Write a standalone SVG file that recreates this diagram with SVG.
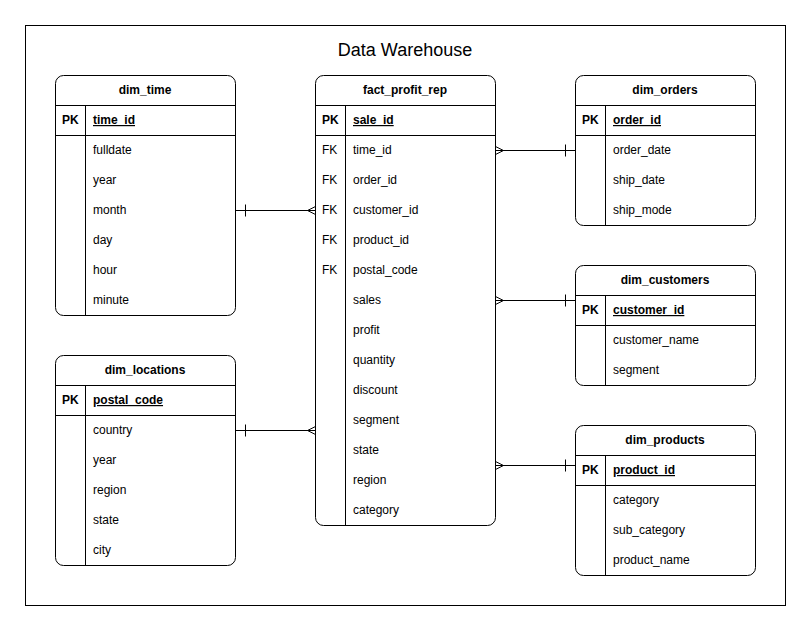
<svg xmlns="http://www.w3.org/2000/svg" width="811" height="632" viewBox="0 0 811 632">
<style>
.t{font-family:"Liberation Sans",Arial,sans-serif;font-size:12px;fill:#000}
.h{font-weight:bold;text-anchor:middle}
.k{font-weight:bold}
.u{font-weight:bold;text-decoration:underline}
.box{fill:#fff;stroke:#000;stroke-width:1}
.ln{stroke:#000;stroke-width:1;fill:none}
</style>
<rect x="0" y="0" width="811" height="632" fill="#fff"/>
<rect x="25.5" y="25.5" width="760" height="580" fill="#fff" stroke="#000"/>
<text x="405" y="55.5" font-family="'Liberation Sans',Arial,sans-serif" font-size="18" text-anchor="middle">Data Warehouse</text>

<g id="dim_time">
<rect class="box" x="55.5" y="75.5" width="180" height="240" rx="8"/>
<line class="ln" x1="55.5" y1="105.5" x2="235.5" y2="105.5"/>
<line class="ln" x1="55.5" y1="135.5" x2="235.5" y2="135.5"/>
<line class="ln" x1="85.5" y1="105.5" x2="85.5" y2="315.5"/>
<text class="t h" x="145" y="94">dim_time</text>
<text class="t k" x="62" y="124">PK</text>
<text class="t u" x="93" y="124">time_id</text>
<text class="t" x="93" y="154">fulldate</text>
<text class="t" x="93" y="184">year</text>
<text class="t" x="93" y="214">month</text>
<text class="t" x="93" y="244">day</text>
<text class="t" x="93" y="274">hour</text>
<text class="t" x="93" y="304">minute</text>
</g>

<g id="dim_locations">
<rect class="box" x="55.5" y="355.5" width="180" height="210" rx="8"/>
<line class="ln" x1="55.5" y1="385.5" x2="235.5" y2="385.5"/>
<line class="ln" x1="55.5" y1="415.5" x2="235.5" y2="415.5"/>
<line class="ln" x1="85.5" y1="385.5" x2="85.5" y2="565.5"/>
<text class="t h" x="145" y="374">dim_locations</text>
<text class="t k" x="62" y="404">PK</text>
<text class="t u" x="93" y="404">postal_code</text>
<text class="t" x="93" y="434">country</text>
<text class="t" x="93" y="464">year</text>
<text class="t" x="93" y="494">region</text>
<text class="t" x="93" y="524">state</text>
<text class="t" x="93" y="554">city</text>
</g>

<g id="fact_profit_rep">
<rect class="box" x="315.5" y="75.5" width="180" height="450" rx="8"/>
<line class="ln" x1="315.5" y1="105.5" x2="495.5" y2="105.5"/>
<line class="ln" x1="315.5" y1="135.5" x2="495.5" y2="135.5"/>
<line class="ln" x1="345.5" y1="105.5" x2="345.5" y2="525.5"/>
<text class="t h" x="405" y="94">fact_profit_rep</text>
<text class="t k" x="322" y="124">PK</text>
<text class="t u" x="353" y="124">sale_id</text>
<text class="t" x="322" y="154">FK</text>
<text class="t" x="353" y="154">time_id</text>
<text class="t" x="322" y="184">FK</text>
<text class="t" x="353" y="184">order_id</text>
<text class="t" x="322" y="214">FK</text>
<text class="t" x="353" y="214">customer_id</text>
<text class="t" x="322" y="244">FK</text>
<text class="t" x="353" y="244">product_id</text>
<text class="t" x="322" y="274">FK</text>
<text class="t" x="353" y="274">postal_code</text>
<text class="t" x="353" y="304">sales</text>
<text class="t" x="353" y="334">profit</text>
<text class="t" x="353" y="364">quantity</text>
<text class="t" x="353" y="394">discount</text>
<text class="t" x="353" y="424">segment</text>
<text class="t" x="353" y="454">state</text>
<text class="t" x="353" y="484">region</text>
<text class="t" x="353" y="514">category</text>
</g>

<g id="dim_orders">
<rect class="box" x="575.5" y="75.5" width="180" height="150" rx="8"/>
<line class="ln" x1="575.5" y1="105.5" x2="755.5" y2="105.5"/>
<line class="ln" x1="575.5" y1="135.5" x2="755.5" y2="135.5"/>
<line class="ln" x1="605.5" y1="105.5" x2="605.5" y2="225.5"/>
<text class="t h" x="665" y="94">dim_orders</text>
<text class="t k" x="582" y="124">PK</text>
<text class="t u" x="613" y="124">order_id</text>
<text class="t" x="613" y="154">order_date</text>
<text class="t" x="613" y="184">ship_date</text>
<text class="t" x="613" y="214">ship_mode</text>
</g>

<g id="dim_customers">
<rect class="box" x="575.5" y="265.5" width="180" height="120" rx="8"/>
<line class="ln" x1="575.5" y1="295.5" x2="755.5" y2="295.5"/>
<line class="ln" x1="575.5" y1="325.5" x2="755.5" y2="325.5"/>
<line class="ln" x1="605.5" y1="295.5" x2="605.5" y2="385.5"/>
<text class="t h" x="665" y="284">dim_customers</text>
<text class="t k" x="582" y="314">PK</text>
<text class="t u" x="613" y="314">customer_id</text>
<text class="t" x="613" y="344">customer_name</text>
<text class="t" x="613" y="374">segment</text>
</g>

<g id="dim_products">
<rect class="box" x="575.5" y="425.5" width="180" height="150" rx="8"/>
<line class="ln" x1="575.5" y1="455.5" x2="755.5" y2="455.5"/>
<line class="ln" x1="575.5" y1="485.5" x2="755.5" y2="485.5"/>
<line class="ln" x1="605.5" y1="455.5" x2="605.5" y2="575.5"/>
<text class="t h" x="665" y="444">dim_products</text>
<text class="t k" x="582" y="474">PK</text>
<text class="t u" x="613" y="474">product_id</text>
<text class="t" x="613" y="504">category</text>
<text class="t" x="613" y="534">sub_category</text>
<text class="t" x="613" y="564">product_name</text>
</g>

<g id="connectors" class="ln">
<path class="ln" d="M235.5 210.5H315.5M245.5 204.5V216.5M315.5 206.5L307.5 210.5L315.5 214.5"/>
<path class="ln" d="M235.5 430.5H315.5M245.5 424.5V436.5M315.5 426.5L307.5 430.5L315.5 434.5"/>
<path class="ln" d="M495.5 150.5H575.5M565.5 144.5V156.5M495.5 146.5L503.5 150.5L495.5 154.5"/>
<path class="ln" d="M495.5 300.5H575.5M565.5 294.5V306.5M495.5 296.5L503.5 300.5L495.5 304.5"/>
<path class="ln" d="M495.5 465.5H575.5M565.5 459.5V471.5M495.5 461.5L503.5 465.5L495.5 469.5"/>
</g>
</svg>
